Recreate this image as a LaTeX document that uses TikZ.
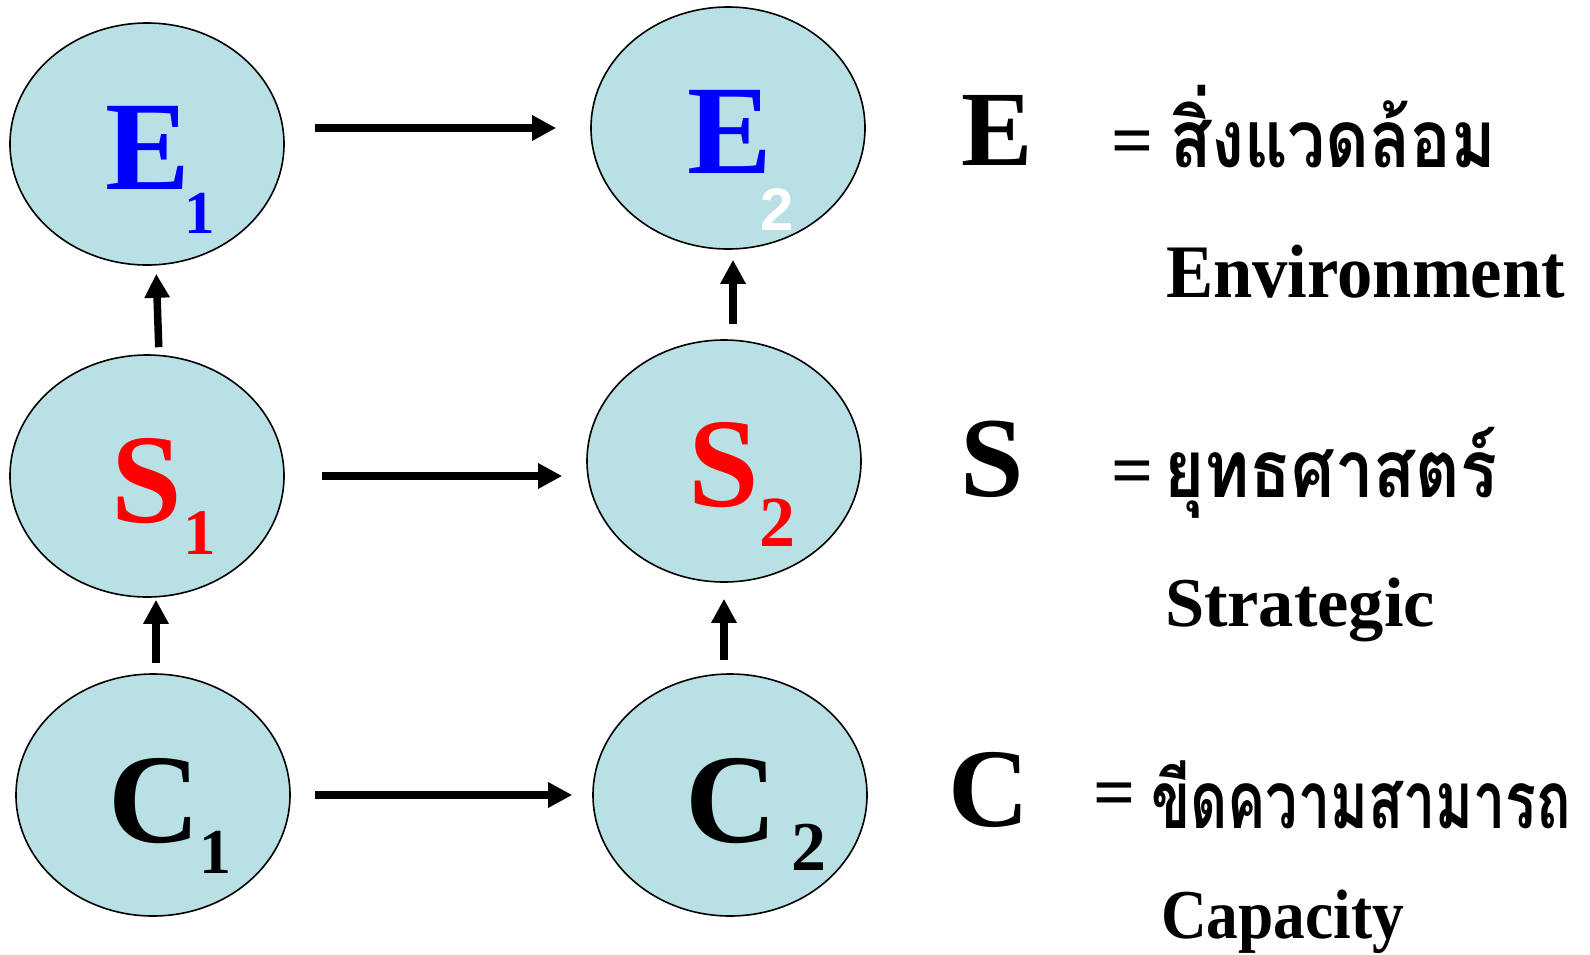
\documentclass[tikz,border=0pt]{standalone}
\usepackage{fontspec}
\usepackage{graphicx}
\setmainfont{Liberation Serif}
\newfontfamily\thaifont[Script=Thai]{Loma}
\newfontfamily\arialfont{Liberation Sans}
\usetikzlibrary{arrows.meta,shapes.geometric}
\definecolor{nodefill}{RGB}{185,224,228}
\definecolor{eblue}{RGB}{0,0,255}
\definecolor{sred}{RGB}{255,0,0}
\newcommand{\fsz}[1]{\fontsize{#1}{#1}\selectfont}
\begin{document}
\begin{tikzpicture}[x=1pt,y=-1pt,
  blob/.style={ellipse, draw=black, line width=1.6pt, fill=nodefill, minimum width=274pt, minimum height=242pt, inner sep=0pt},
  arr/.style={line width=7.5pt, -{Triangle[length=24pt,width=24pt]}},
  txt/.style={anchor=base west, inner sep=0pt, outer sep=0pt},
  eqs/.style={anchor=center, inner sep=0pt, font=\bfseries\fsz{74}},
  thai/.style={anchor=base west, inner sep=0pt, outer sep=0pt, font=\thaifont\bfseries\fsz{80}},
]
\useasboundingbox (0,0) rectangle (1590,954);
\fill[white] (0,0) rectangle (1590,954);

% ellipses
\node[blob] (E1) at (147,144) {};
\node[blob] (E2) at (728,128) {};
\node[blob] (S1) at (147,476) {};
\node[blob] (S2) at (724,461) {};
\node[blob] (C1) at (153,795) {};
\node[blob] (C2) at (730,795) {};

% letters in ellipses
\node[txt, text=eblue, font=\bfseries\fsz{127}] (E1l) at (105,189) {E};
\node[txt, text=eblue, font=\bfseries\fsz{61}] (E1s) at (184,233) {1};
\node[txt, text=eblue, font=\bfseries\fsz{127}] (E2l) at (687,173) {E};
\node[txt, text=white, font=\arialfont\bfseries\fsz{60}] (E2s) at (760,230) {2};
\node[txt, text=sred, font=\bfseries\fsz{127}] (S1l) at (111,522) {S};
\node[txt, text=sred, font=\bfseries\fsz{65}] (S1s) at (183,554) {1};
\node[txt, text=sred, font=\bfseries\fsz{127}] (S2l) at (688,506) {S};
\node[txt, text=sred, font=\bfseries\fsz{72}] (S2s) at (759,546) {2};
\node[txt, font=\bfseries\fsz{127}] (C1l) at (108,842) {C};
\node[txt, font=\bfseries\fsz{64}] (C1s) at (199,873) {1};
\node[txt, font=\bfseries\fsz{127}] (C2l) at (685,842) {C};
\node[txt, font=\bfseries\fsz{70}] (C2s) at (791,870) {2};

% arrows
\draw[arr, shorten <=30pt, shorten >=34pt] (E1.east |- E2.west) -- (E2.west);
\draw[arr, shorten <=37pt, shorten >=24pt] (S1.east) -- (S2.west |- S1.east);
\draw[arr, shorten <=24pt, shorten >=20pt] (C1.east) -- (C2.west);
\draw[arr, shorten <=7pt, shorten >=8pt] ([xshift=12pt]S1.north) -- ([xshift=9pt]E1.south);
\draw[arr, shorten <=15pt, shorten >=10pt] ([xshift=9pt]S2.north) -- ([xshift=5pt]E2.south);
\draw[arr, shorten <=10pt, shorten >=2pt] ([xshift=3pt]C1.north) -- ([xshift=9pt]S1.south);
\draw[arr, shorten <=13pt, shorten >=16pt] ([xshift=-6pt]C2.north) -- (S2.south);

% legend
\node[txt, font=\bfseries\fsz{107}] (Ek) at (961,165) {E};
\node[txt, font=\bfseries\fsz{114}] (Sk) at (960,496) {S};
\node[txt, font=\bfseries\fsz{112}] (Ck) at (948,826) {C};
\node[eqs] (eq1) at (1133,148) {=};
\node[eqs] (eq2) at (1133,478) {=};
\node[eqs] (eq3) at (1115,800) {=};
\node[thai] (th1) at (1170,167) {\resizebox{326pt}{\height}{สิ่งแวดล้อม}};
\node[thai] (th2) at (1164,497) {\resizebox{333pt}{\height}{ยุทธศาสตร์}};
\node[thai] (th3) at (1151,828) {\resizebox{420pt}{\height}{ขีดความสามารถ}};
\node[txt, font=\bfseries\fsz{70}] (en) at (1166,297) {\resizebox{399pt}{1.08\height}{Environment}};
\node[txt, font=\bfseries\fsz{70}] (st) at (1165,626) {\resizebox{270pt}{\height}{Strategic}};
\node[txt, font=\bfseries\fsz{70}] (ca) at (1161,938) {\resizebox{243pt}{\height}{Capacity}};
\end{tikzpicture}
\end{document}
